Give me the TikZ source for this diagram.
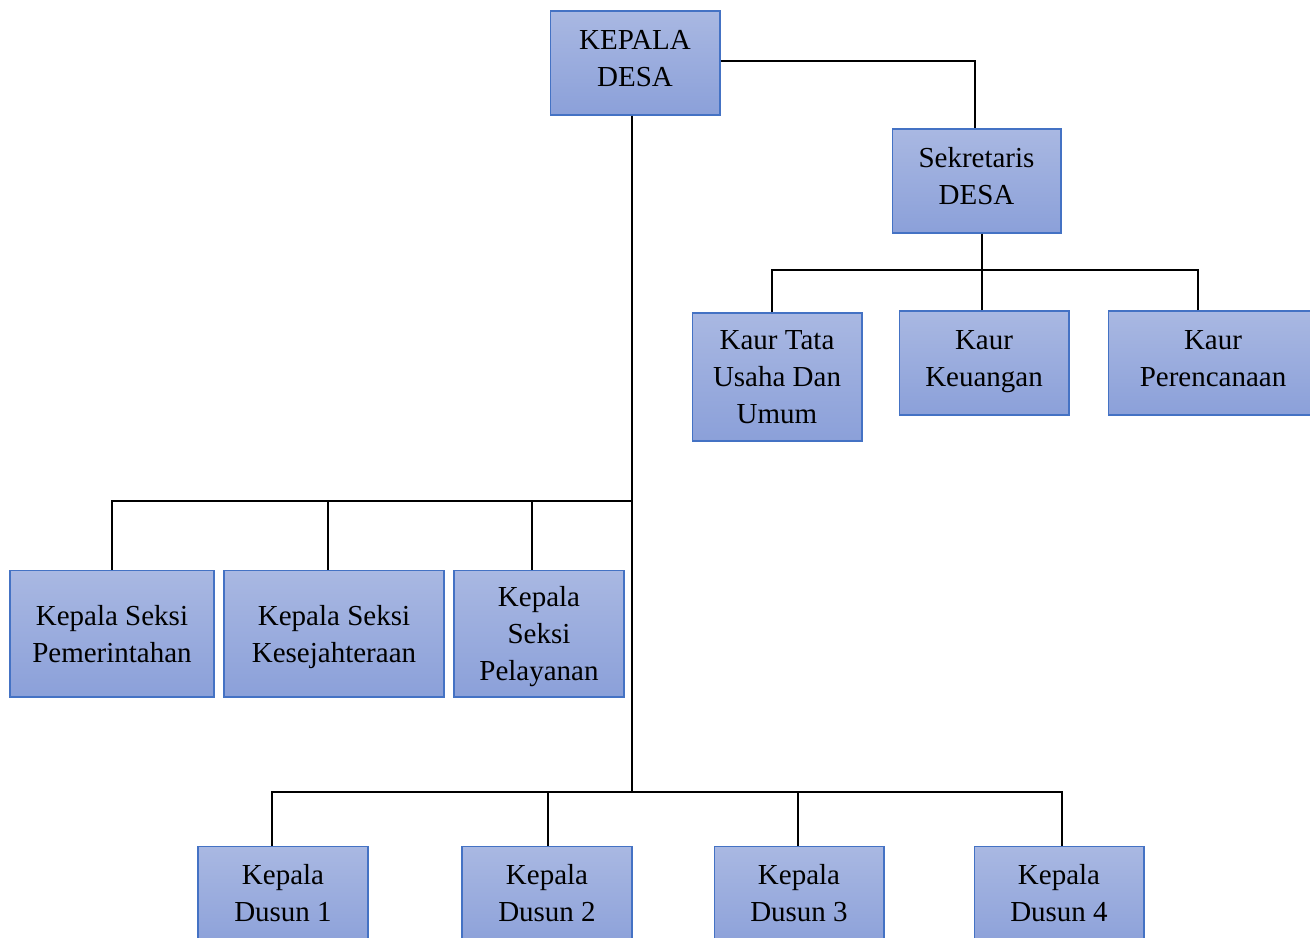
\documentclass[tikz,border=0pt]{standalone}
\usepackage{fontspec}
\setmainfont{Liberation Serif}
\definecolor{boxtop}{RGB}{169,184,226}
\definecolor{boxbot}{RGB}{139,160,217}
\definecolor{boxline}{RGB}{68,114,196}
\tikzset{jabatan/.style={rectangle,draw=boxline,line width=0.6pt,top color=boxtop,bottom color=boxbot,
    align=center,inner sep=2pt,minimum height=2.08cm,text depth=0pt,font=\fontsize{16.5}{21}\selectfont}}
\tikzset{duabaris/.style={jabatan,text depth=5.6pt}}
\tikzset{garis/.style={black,line width=0.8pt}}

\begin{document}
\begin{tikzpicture}[x=0.02cm,y=-0.02cm]
        \clip (0,0) rectangle (1310,937);
        \useasboundingbox (0,0) rectangle (1310,937);
        % kepala desa dan sekretaris
        \node[duabaris,minimum width=3.4cm] (kades) at (635,63) {KEPALA\\DESA};
        \node[duabaris,minimum width=3.38cm] (sekdes) at (976.5,181) {Sekretaris\\DESA};
        % kaur
        \node[jabatan,minimum width=3.4cm,minimum height=2.56cm] (kaur1) at (777,377) {Kaur Tata\\Usaha Dan\\Umum};
        \node[duabaris,minimum width=3.4cm] (kaur2) at (984,363) {Kaur\\Keuangan};
        \node[duabaris,minimum width=4.2cm] (kaur3) at (1213,363) {Kaur\\Perencanaan};
        % kepala seksi
        \node[jabatan,minimum width=4.08cm,minimum height=2.54cm] (seksi1) at (112,633.5) {Kepala Seksi\\Pemerintahan};
        \node[jabatan,minimum width=4.4cm,minimum height=2.54cm] (seksi2) at (334,633.5) {Kepala Seksi\\Kesejahteraan};
        \node[jabatan,minimum width=3.4cm,minimum height=2.54cm] (seksi3) at (539,633.5) {Kepala\\Seksi\\Pelayanan};
        % kepala dusun
        \node[duabaris,minimum width=3.4cm] (dusun1) at (283,898) {Kepala\\Dusun 1};
        \node[duabaris,minimum width=3.4cm] (dusun2) at (547,898) {Kepala\\Dusun 2};
        \node[duabaris,minimum width=3.4cm] (dusun3) at (799,898) {Kepala\\Dusun 3};
        \node[duabaris,minimum width=3.4cm] (dusun4) at (1059,898) {Kepala\\Dusun 4};

        \coordinate (jkaur) at (982,270);
        \coordinate (jseksi) at (632,501);
        \coordinate (jdusun) at (632,792);

        % garis
        \draw[garis] ([yshift=0.04cm]kades.east) -| ([xshift=-0.03cm]sekdes.north);
        \draw[garis] (jseksi |- kades.south) -- (jdusun);
        \draw[garis] (jkaur |- sekdes.south) -- (jkaur);
        \foreach \n/\dx in {kaur1/-5,kaur2/-2,kaur3/-15}
            \draw[garis] ([xshift=\dx*0.02cm]\n.north) |- (jkaur);
        \foreach \n/\dx in {seksi1/0,seksi2/-6,seksi3/-7}
            \draw[garis] ([xshift=\dx*0.02cm]\n.north) |- (jseksi);
        \foreach \n/\dx in {dusun1/-11,dusun2/1,dusun3/-1,dusun4/3}
            \draw[garis] ([xshift=\dx*0.02cm]\n.north) |- (jdusun);
\end{tikzpicture}
\end{document}
